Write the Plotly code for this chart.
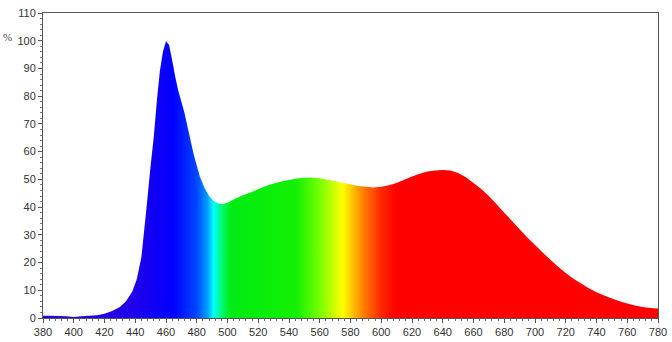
import plotly.graph_objects as go

wavelength = [380, 385, 390, 395, 400, 405, 410, 415, 420, 425, 430, 434, 438, 441, 444, 447,
              450, 452, 454, 456, 458, 460, 462, 464, 466, 468, 470, 472, 474, 476, 478, 480,
              482, 485, 488, 491, 494, 497, 500, 505, 510, 515, 520, 525, 530, 535, 540, 545,
              550, 555, 560, 565, 570, 575, 580, 585, 590, 595, 600, 605, 610, 615, 620, 625,
              630, 635, 640, 645, 650, 655, 660, 665, 670, 675, 680, 685, 690, 695, 700, 705,
              710, 715, 720, 725, 730, 735, 740, 745, 750, 755, 760, 765, 770, 775, 780]
intensity = [0.8, 0.8, 0.7, 0.6, 0.4, 0.6, 0.8, 1.0, 1.5, 2.5, 4.0, 6.0, 9.5, 14, 22, 38,
             55, 65, 78, 89, 96, 99.8, 98.5, 93, 87, 82, 78, 74, 69, 64, 59, 55,
             51, 47, 44, 42.2, 41.3, 41.1, 41.6, 43, 44.3, 45.3, 46.5, 47.6, 48.5, 49.2, 49.8, 50.3,
             50.6, 50.7, 50.4, 49.9, 49.3, 48.7, 48.2, 47.6, 47.3, 47.1, 47.3, 47.9, 48.7, 49.9, 51, 52,
             52.8, 53.2, 53.4, 53.2, 52.3, 50.8, 48.7, 46.5, 44, 41, 38, 35, 32, 29, 26.3, 23.6,
             21, 18.5, 16.2, 14.2, 12.4, 10.7, 9.3, 8.1, 7, 6, 5.2, 4.5, 4, 3.6, 3.4]

# spectral colour stops (nm, colour)
stop_nm = [380, 440, 465, 480, 487, 491, 496, 502, 545, 560, 575, 588, 600, 610, 780]
stop_col = ["rgb(40,0,220)", "rgb(30,0,235)", "rgb(0,0,255)", "rgb(0,70,255)", "rgb(0,160,255)",
            "rgb(0,255,255)", "rgb(0,250,120)", "rgb(0,235,20)", "rgb(20,240,0)", "rgb(120,255,0)",
            "rgb(255,255,0)", "rgb(255,130,0)", "rgb(255,40,0)", "rgb(255,0,0)", "rgb(255,0,0)"]

x_tick_vals = list(range(380, 781, 20))
y_tick_vals = list(range(0, 111, 10))

lo, hi = stop_nm[0], stop_nm[-1]
colorscale = [[(n - lo) / (hi - lo), c] for n, c in zip(stop_nm, stop_col)]

fig = go.Figure()
fig.add_trace(go.Scatter(
    x=wavelength, y=intensity, mode="none", fill="tozeroy",
    fillgradient=dict(type="horizontal", colorscale=colorscale, start=lo, stop=hi),
    hoverinfo="skip", showlegend=False,
))

axis_font = dict(family="Liberation Sans, Arial, sans-serif", size=11, color="#333333")
fig.update_xaxes(range=[380, 780], tickvals=x_tick_vals, ticks="outside", ticklen=4,
                 tickcolor="#555555", showline=True, linecolor="#555555", linewidth=1,
                 mirror=True, showgrid=False, zeroline=False, tickfont=axis_font, automargin=False,
                 minor=dict(dtick=4, ticks="outside", ticklen=2, tickcolor="#777777", showgrid=False))
fig.update_yaxes(range=[0, 110], tickvals=y_tick_vals, ticks="outside", ticklen=4,
                 tickcolor="#555555", showline=True, linecolor="#555555", linewidth=1,
                 mirror=True, showgrid=False, zeroline=False, tickfont=axis_font, automargin=False,
                 minor=dict(dtick=2, ticks="outside", ticklen=2, tickcolor="#777777", showgrid=False))

fig.add_annotation(text="%", xref="paper", yref="y", x=-0.057, y=101.5, showarrow=False,
                   xanchor="center", yanchor="middle",
                   font=dict(family="Liberation Serif, Times New Roman, serif", size=11, color="#444444"))

fig.update_layout(width=672, height=342, margin=dict(l=43, r=14, t=13, b=24),
                  plot_bgcolor="white", paper_bgcolor="white")

fig.write_html("out.html")
